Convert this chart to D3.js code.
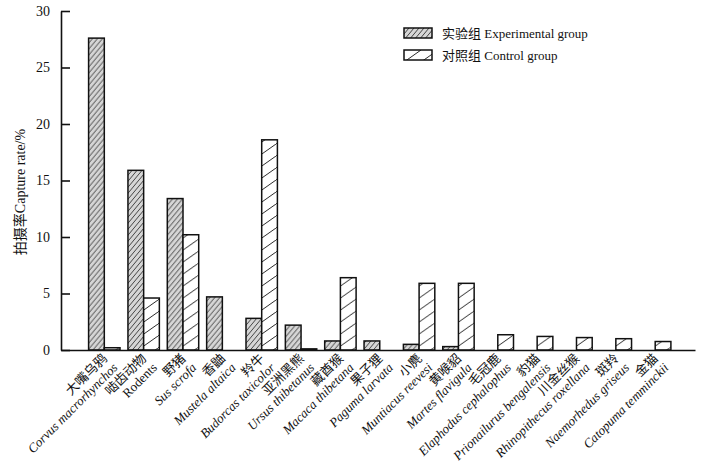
<!DOCTYPE html>
<html lang="zh">
<head>
<meta charset="UTF-8">
<title>Capture rate</title>
<script src="https://d3js.org/d3.v7.min.js"></script>
<style>
  body { margin: 0; background: #fff; }
  text { font-family: "Liberation Serif", "Noto Sans CJK SC", serif; fill: #111; }
</style>
</head>
<body>
<script>
// species names: Chinese + Latin (second line)
var namesCn = ["大嘴乌鸦", "啮齿动物", "野猪", "香鼬", "羚牛", "亚洲黑熊", "藏酋猴", "果子狸",
  "小麂", "黄喉貂", "毛冠鹿", "豹猫", "川金丝猴", "斑羚", "金猫"]
var namesLa = ["Corvus macrorhynchos", "Rodents", "Sus scrofa", "Mustela altaica", "Budorcas taxicolor",
  "Ursus thibetanus", "Macaca thibetana", "Paguma larvata", "Muntiacus reevesi", "Martes flavigula",
  "Elaphodus cephalophus", "Prionailurus bengalensis", "Rhinopithecus roxellana", "Naemorhedus griseus",
  "Catopuma temminckii"]
// Latin names in italics except "Rodents"
var italic = [1, 0, 1, 1, 1, 1, 1, 1, 1, 1, 1, 1, 1, 1, 1]

var experimental = [27.6, 15.9, 13.4, 4.7, 2.8, 2.2, 0.8, 0.8, 0.5, 0.3, 0, 0, 0, 0, 0]
var control = [0.2, 4.6, 10.2, 0, 18.6, 0.1, 6.4, 0, 5.9, 5.9, 1.35, 1.2, 1.1, 1.0, 0.75]

var yTicks = [0, 5, 10, 15, 20, 25, 30]
var seriesNames = ["实验组 Experimental group", "对照组 Control group"]

var width = 704, height = 473

var svg = d3.select("body").append("svg")
  .attr("width", width)
  .attr("height", height)

// hatch patterns
var defs = svg.append("defs")
function hatch(id, w, h, bg, sw) {
  var p = defs.append("pattern")
    .attr("id", id)
    .attr("patternUnits", "userSpaceOnUse")
    .attr("width", w).attr("height", h)
  p.append("rect").attr("width", w).attr("height", h).attr("fill", bg)
  p.append("path")
    .attr("d", "M" + (-w) + "," + h + "L0,0M0," + h + "L" + w + ",0M" + w + "," + h + "L" + (2 * w) + ",0")
    .attr("stroke", "#111").attr("stroke-width", sw)
}
hatch("hExp", 5, 6, "#d6d6d6", 0.75)
hatch("hCtl", 17, 12, "#fff", 0.9)

var y = d3.scaleLinear().domain([0, 30]).range([350, 11])

var x = d3.scaleBand()
  .domain(namesCn)
  .range([61, 695])
  .paddingInner(0)
  .paddingOuter(0.556)
  .align(0.54)

var xs = d3.scaleBand()
  .domain(["exp", "ctl"])
  .range([0, x.bandwidth()])
  .paddingOuter(0.253)

// y axis, ticks pointing inward
svg.append("g")
  .attr("transform", "translate(61,0)")
  .call(d3.axisLeft(y).tickValues(yTicks).tickSizeInner(-9).tickSizeOuter(0).tickPadding(11))
  .call(function (g) {
    g.select(".domain").attr("stroke", "#111").attr("stroke-width", 1.6)
    g.selectAll(".tick line").attr("stroke", "#111").attr("stroke-width", 1.6)
    g.selectAll(".tick text").attr("font-size", 14).attr("font-family", "Liberation Serif").attr("fill", "#111")
  })

// bars
var rows = namesCn.map(function (n, i) {
  return { name: n, exp: experimental[i], ctl: control[i] }
})

var groups = svg.append("g").selectAll("g")
  .data(rows)
  .enter().append("g")
  .attr("transform", function (d) { return "translate(" + x(d.name) + ",0)" })

groups.selectAll("rect")
  .data(function (d) {
    return [{ key: "exp", v: d.exp }, { key: "ctl", v: d.ctl }].filter(function (e) { return e.v > 0 })
  })
  .enter().append("rect")
  .attr("x", function (d) { return xs(d.key) })
  .attr("y", function (d) { return y(d.v) })
  .attr("width", xs.bandwidth())
  .attr("height", function (d) { return y(0) - y(d.v) })
  .attr("fill", function (d) { return d.key == "exp" ? "url(#hExp)" : "url(#hCtl)" })
  .attr("stroke", "#111")
  .attr("stroke-width", 1.5)

// x axis line
svg.append("g")
  .attr("transform", "translate(0,350)")
  .call(d3.axisBottom(x).tickSize(0).tickFormat(""))
  .call(function (g) {
    g.select(".domain").attr("stroke", "#111").attr("stroke-width", 1.6)
  })

// rotated two-line category labels
var labels = svg.append("g").selectAll("g")
  .data(namesCn)
  .enter().append("g")
  .attr("transform", function (d) {
    return "translate(" + (x(d) + x.bandwidth() / 2) + ",350) rotate(-45)"
  })

labels.append("text")
  .attr("x", -4).attr("y", 9)
  .attr("text-anchor", "end")
  .attr("font-size", 13)
  .text(function (d) { return d })

labels.append("text")
  .attr("x", -3).attr("y", 23)
  .attr("text-anchor", "end")
  .attr("font-size", 13)
  .attr("font-style", function (d, i) { return italic[i] ? "italic" : "normal" })
  .text(function (d, i) { return namesLa[i] })

// y axis title
svg.append("text")
  .attr("transform", "translate(25,192) rotate(-90)")
  .attr("text-anchor", "middle")
  .attr("font-size", 14)
  .text("拍摄率Capture rate/%")

// legend
var legend = svg.append("g").selectAll("g")
  .data(seriesNames)
  .enter().append("g")
  .attr("transform", function (d, i) { return "translate(404," + (28 + i * 22) + ")" })

legend.append("rect")
  .attr("width", 28).attr("height", 10)
  .attr("fill", function (d, i) { return i == 0 ? "url(#hExp)" : "url(#hCtl)" })
  .attr("stroke", "#111")
  .attr("stroke-width", 1.5)

legend.append("text")
  .attr("x", 38).attr("y", 10)
  .attr("font-size", 13)
  .text(function (d) { return d })
</script>
</body>
</html>
